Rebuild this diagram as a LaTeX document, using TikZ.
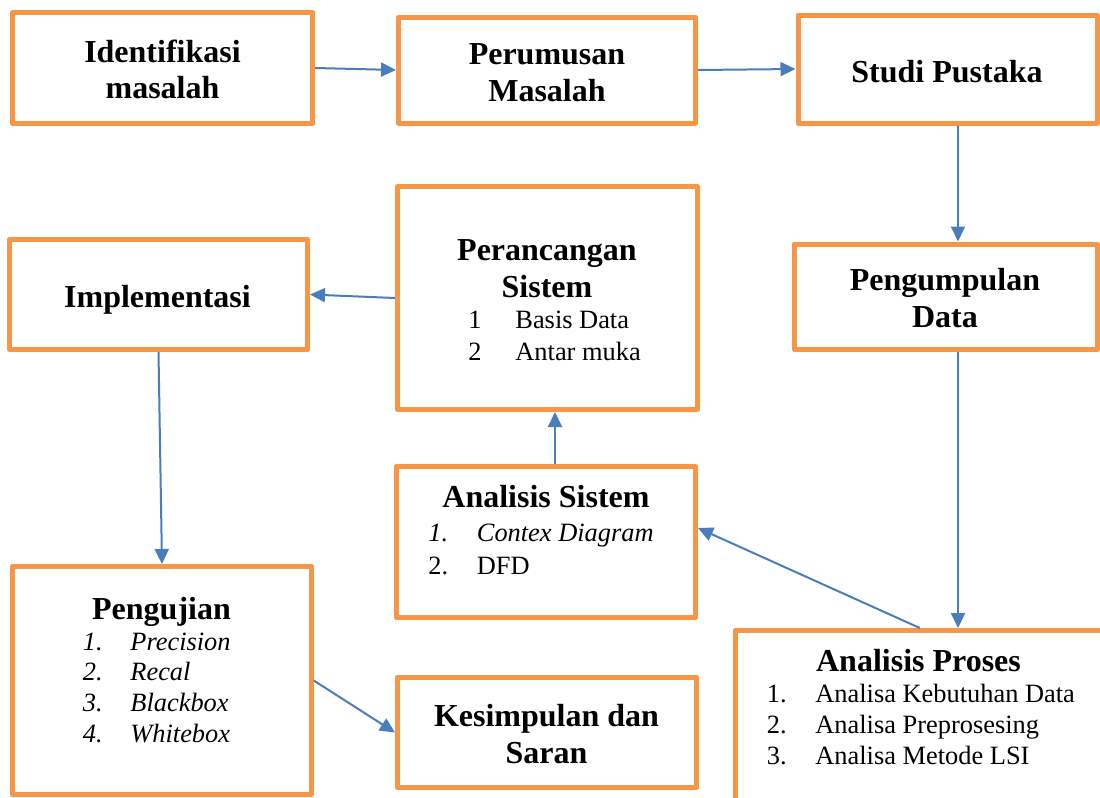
\documentclass[tikz,border=0pt]{standalone}
\usepackage{fontspec}
\setmainfont{Liberation Serif}
\usetikzlibrary{arrows.meta}
\definecolor{boxorange}{HTML}{F79646}
\definecolor{arrblue}{HTML}{4A7EBB}
\tikzset{
  box/.style={draw=boxorange, line width=2.5pt, line join=round, fill=white, inner sep=0pt},
  arr/.style={draw=arrblue, line width=1pt, -{Triangle[length=7.5pt,width=7pt]}},
  head/.style={anchor=base, inner sep=0pt, font=\fontsize{16pt}{19pt}\selectfont\bfseries},
  item/.style={anchor=base west, inner sep=0pt, font=\fontsize{13.2pt}{15.5pt}\selectfont},
  itemit/.style={item, font=\fontsize{13.2pt}{15.5pt}\selectfont\itshape}
}
\begin{document}
\begin{tikzpicture}[x=0.5pt,y=-0.5pt]
\useasboundingbox (0,0) rectangle (1100,798);
\fill[white] (0,0) rectangle (1100,798);
\clip (0,0) rectangle (1100,798);

% boxes
\node[box, minimum width=150pt, minimum height=55.5pt] (idf) at (162.5,68) {};
\node[box, minimum width=148.5pt, minimum height=53pt] (per) at (547,70) {};
\node[box, minimum width=149.5pt, minimum height=54pt] (stu) at (947.5,69) {};
\node[box, minimum width=149pt, minimum height=55pt] (imp) at (158.5,294.5) {};
\node[box, minimum width=150pt, minimum height=111.5pt] (pera) at (547.5,298) {};
\node[box, minimum width=151.5pt, minimum height=52.5pt] (pgm) at (945.5,296.5) {};
\node[box, minimum width=149.5pt, minimum height=75.5pt] (ans) at (546,542) {};
\node[box, minimum width=149.25pt, minimum height=114pt] (pgj) at (162,680.5) {};
\node[box, minimum width=149.5pt, minimum height=55pt] (kes) at (547,732.5) {};
\node[box, minimum width=184.25pt, minimum height=85.75pt] (anp) at (919.75,716.25) {};

% texts
\node[head] (t1a) at (162.5,62) {Identifikasi};
\node[head] (t1b) at (162.5,98.5) {masalah};
\node[head] (t2a) at (547,64) {Perumusan};
\node[head] (t2b) at (547,101) {Masalah};
\node[head] (t3a) at (947,82) {Studi Pustaka};
\node[head] (t4a) at (157.5,307) {Implementasi};
\node[head] (t5a) at (547,260) {Perancangan};
\node[head] (t5b) at (547,297) {Sistem};
\node[item] (t5n1) at (468,328) {1};
\node[item] (t5i1) at (515,328) {Basis Data};
\node[item] (t5n2) at (468,360) {2};
\node[item] (t5i2) at (515,360) {Antar muka};
\node[head] (t6a) at (945,290) {Pengumpulan};
\node[head] (t6b) at (945,327) {Data};
\node[head] (t7a) at (546,507.5) {Analisis Sistem};
\node[itemit] (t7n1) at (428,541) {1.};
\node[itemit] (t7i1) at (476.5,541) {Contex Diagram};
\node[item] (t7n2) at (428,574) {2.};
\node[item] (t7i2) at (476.5,574) {DFD};
\node[head] (t8a) at (161.5,619) {Pengujian};
\node[itemit] (t8n1) at (82.5,650) {1.};
\node[itemit] (t8i1) at (130,650) {Precision};
\node[itemit] (t8n2) at (82.5,680.5) {2.};
\node[itemit] (t8i2) at (130,680.5) {Recal};
\node[itemit] (t8n3) at (82.5,711.5) {3.};
\node[itemit] (t8i3) at (130,711.5) {Blackbox};
\node[itemit] (t8n4) at (82.5,742) {4.};
\node[itemit] (t8i4) at (130,742) {Whitebox};
\node[head] (t9a) at (546.5,726) {Kesimpulan dan};
\node[head] (t9b) at (546.5,763.5) {Saran};
\node[head] (t10a) at (918.5,671) {Analisis Proses};
\node[item] (t10n1) at (766.5,702) {1.};
\node[item] (t10i1) at (815,702) {Analisa Kebutuhan Data};
\node[item] (t10n2) at (766.5,733.5) {2.};
\node[item] (t10i2) at (815,733.5) {Analisa Preprosesing};
\node[item] (t10n3) at (766.5,764) {3.};
\node[item] (t10i3) at (815,764) {Analisa Metode LSI};

% connectors
\draw[arr] (idf.east) -- (per.west);
\draw[arr] (per.east) -- (stu.west);
\draw[arr] ([xshift=5.25pt]stu.south) -- ([xshift=5.25pt]stu.south |- pgm.north);
\draw[arr] ([xshift=6.25pt]pgm.south) -- ([xshift=6.25pt]pgm.south |- anp.north);
\draw[arr] (anp.north) -- ([yshift=7pt]ans.east);
\draw[arr] ([xshift=4.5pt]ans.north) -- ([xshift=4.5pt]ans.north |- pera.south);
\draw[arr] (pera.west) -- (imp.east);
\draw[arr] (imp.south) -- (pgj.north);
\draw[arr] (pgj.east) -- (kes.west);
\end{tikzpicture}
\end{document}
